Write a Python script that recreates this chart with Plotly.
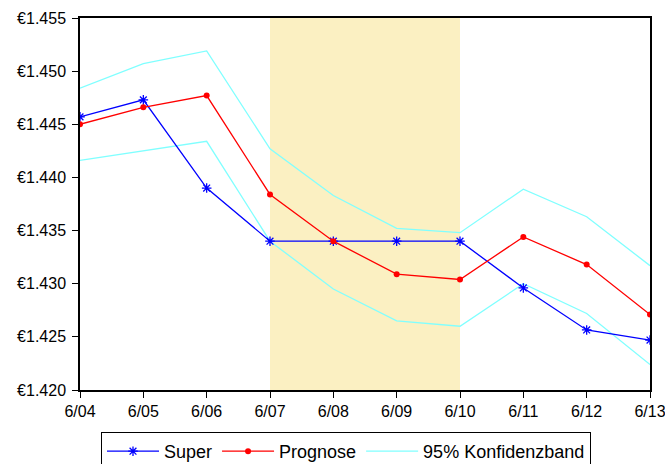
import plotly.graph_objects as go

dates = ["6/04", "6/05", "6/06", "6/07", "6/08", "6/09", "6/10", "6/11", "6/12", "6/13"]
super_vals = [1.4457, 1.4473, 1.4390, 1.4340, 1.4340, 1.4340, 1.4340, 1.4296, 1.42565, 1.4247]
prognose = [1.4450, 1.4466, 1.4477, 1.4384, 1.4340, 1.4309, 1.4304, 1.4344, 1.4318, 1.4271]
upper = [1.4484, 1.4507, 1.4519, 1.4427, 1.4383, 1.4352, 1.4348, 1.4389, 1.4363, 1.4317]
lower = [1.4416, 1.4425, 1.4434, 1.4340, 1.4295, 1.4265, 1.4260, 1.4300, 1.4272, 1.4224]
y_ticks = [1.420, 1.425, 1.430, 1.435, 1.440, 1.445, 1.450, 1.455]
y_ticklabels = ["€%.3f" % v for v in y_ticks]
shade_from, shade_to = "6/07", "6/10"

W, H = 665, 464

fig = go.Figure()
fig.add_trace(go.Scatter(x=dates, y=upper, mode="lines", name="95% Konfidenzband",
                         line=dict(color="#80FFFF", width=1.3), showlegend=False))
fig.add_trace(go.Scatter(x=dates, y=lower, mode="lines", name="95% Konfidenzband",
                         line=dict(color="#80FFFF", width=1.3), showlegend=False))
fig.add_trace(go.Scatter(x=dates, y=super_vals, mode="lines+markers", name="Super",
                         line=dict(color="#0000FF", width=1.3),
                         marker=dict(symbol="asterisk-open", size=8, color="#0000FF",
                                     line=dict(color="#0000FF", width=1.3))))
fig.add_trace(go.Scatter(x=dates, y=prognose, mode="lines+markers", name="Prognose",
                         line=dict(color="#FF0000", width=1.3),
                         marker=dict(symbol="circle", size=6, color="#FF0000")))
fig.add_trace(go.Scatter(x=[None], y=[None], mode="lines", name="95% Konfidenzband",
                         line=dict(color="#80FFFF", width=1.3)))

i0, i1 = dates.index(shade_from), dates.index(shade_to)
fig.add_shape(type="rect", xref="x", yref="paper", x0=i0, x1=i1, y0=0, y1=1,
              fillcolor="#FBF0C2", line=dict(width=0), layer="below")

fig.update_layout(
    width=W, height=H,
    margin=dict(l=80, r=15, t=18, b=74, autoexpand=False),
    paper_bgcolor="white", plot_bgcolor="white",
    font=dict(family="Liberation Sans, Arial", size=16, color="black"),
    legend=dict(orientation="h", xref="container", yref="container",
                x=346 / W, xanchor="center", y=1 - (432 / H), yanchor="top",
                bordercolor="black", borderwidth=1, font=dict(size=18),
                itemwidth=52, tracegroupgap=0),
    showlegend=True,
)
fig.update_xaxes(type="category", range=[0, len(dates) - 1], showgrid=False,
                 showline=True, linecolor="black", linewidth=1.5, mirror=True,
                 ticks="outside", ticklen=6, tickcolor="black", zeroline=False,
                 tickfont=dict(size=16), automargin=False)
fig.update_yaxes(range=[1.420, 1.455], tickvals=y_ticks, ticktext=y_ticklabels,
                 showgrid=False, showline=True, linecolor="black", linewidth=1.5,
                 mirror=True, ticks="outside", ticklen=6, tickcolor="black",
                 zeroline=False, tickfont=dict(size=16), automargin=False,
                 ticklabelstandoff=3)

fig.write_html("out.html", config={"displayModeBar": False},
               post_script="document.body.style.margin='0';document.body.style.overflow='hidden';")
